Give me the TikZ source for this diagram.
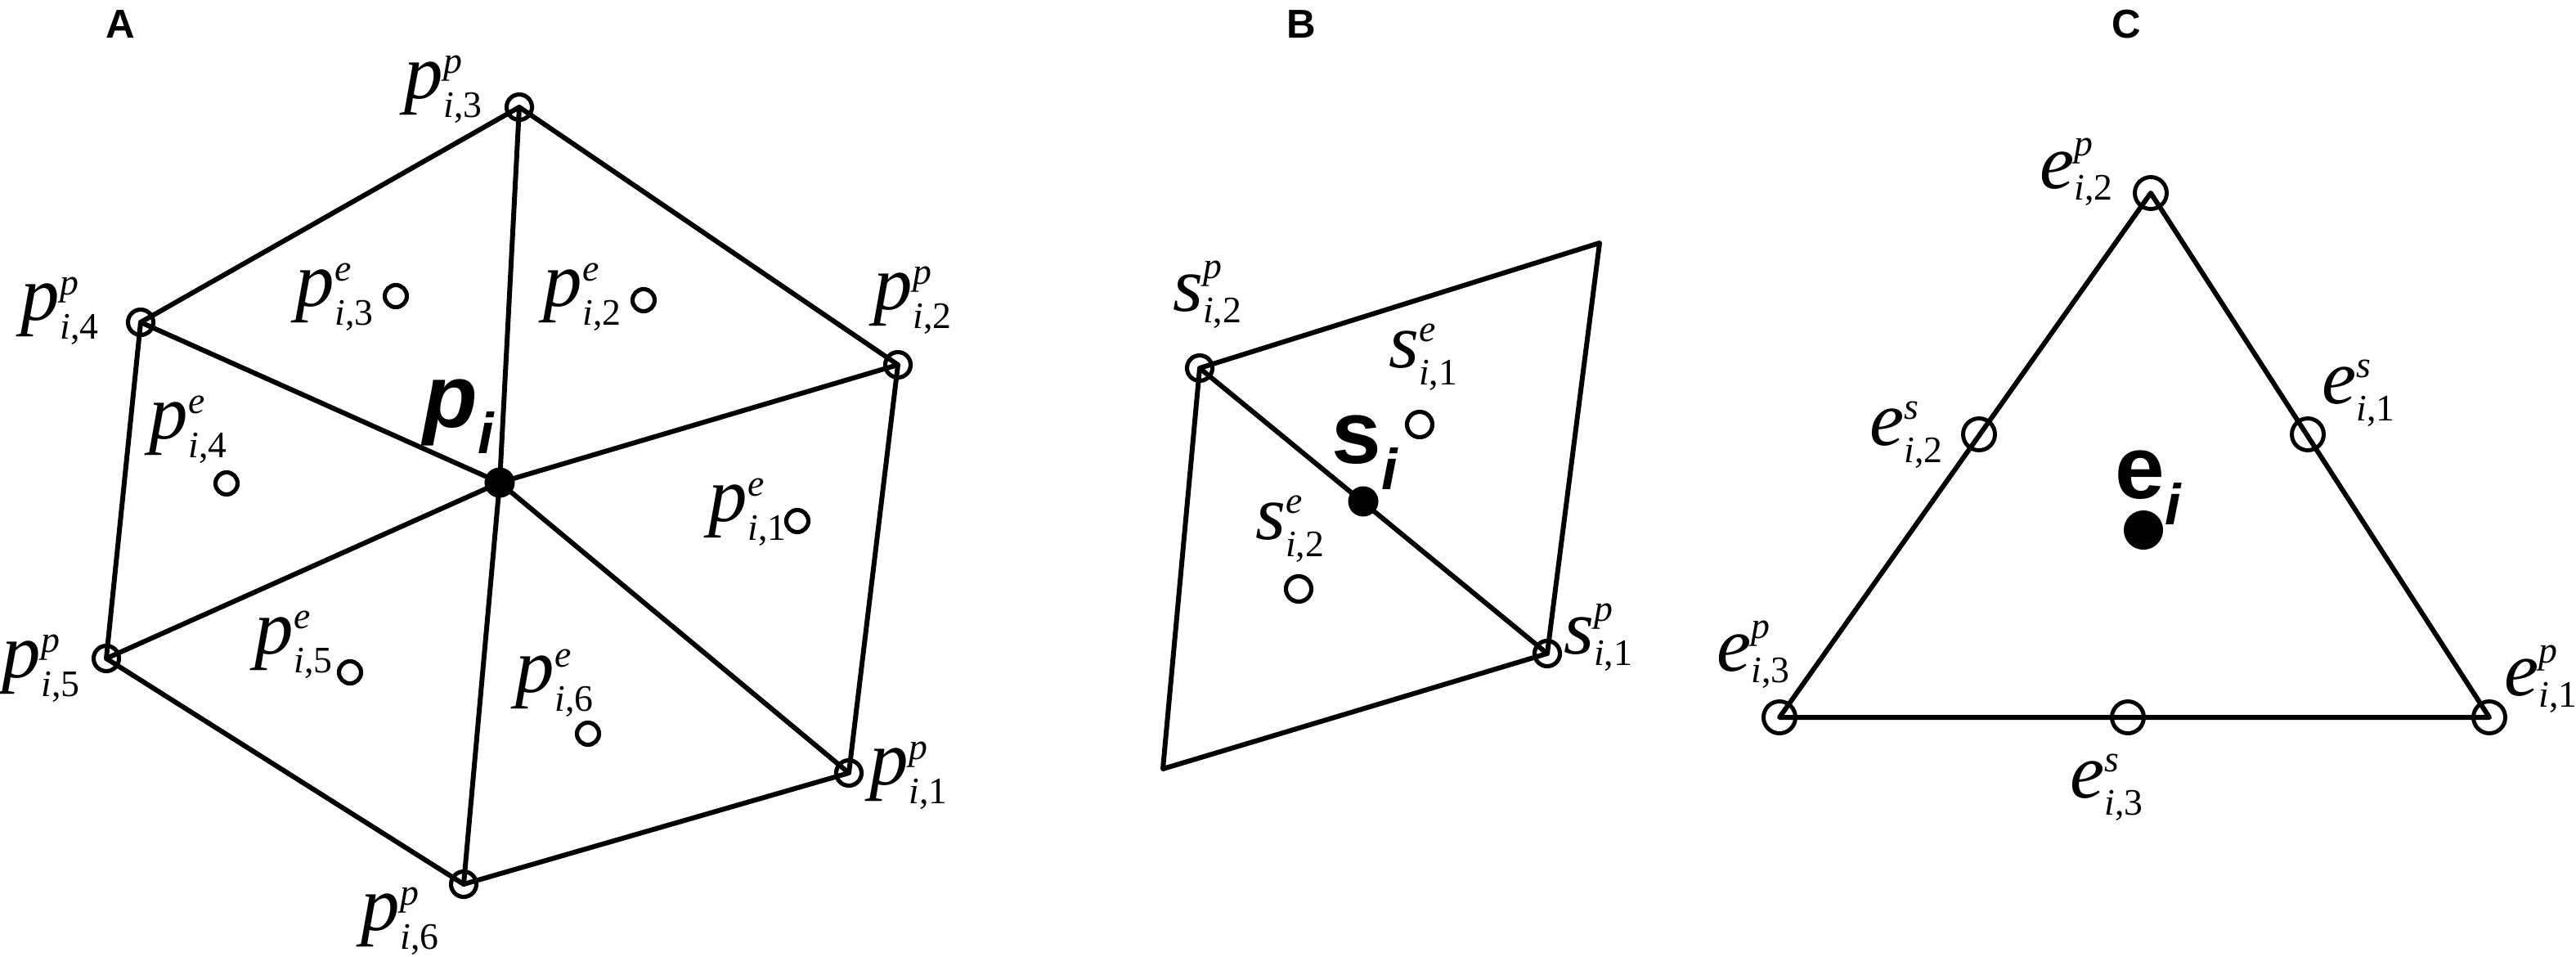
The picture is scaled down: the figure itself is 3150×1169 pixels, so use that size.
\documentclass[tikz,border=0pt]{standalone}
\usepackage{amsmath}
\usepackage{fontspec}
\setmainfont{Liberation Serif}
\newfontfamily\arialf{Liberation Sans}
\DeclareMathSizes{27}{27}{13}{9}
\newcommand\lab[3]{${\textit{#1}}^{\textit{#2}}_{\text{\textit{i},#3}}$}
\newcommand\blab[1]{{\arialf\bfseries\fontsize{31}{31}\selectfont #1\raisebox{-9pt}{\fontsize{20}{20}\selectfont\bfseries\itshape i}}}
\tikzset{
  edge/.style={line width=1.7pt, line cap=round, line join=round},
  vtx/.style={circle, draw, line width=1.45pt, inner sep=0pt, minimum size=0.31cm},
  epnt/.style={circle, draw, line width=1.45pt, inner sep=0pt, minimum size=0.27cm},
  cvtx/.style={circle, draw, line width=1.4pt, inner sep=0pt, minimum size=0.39cm},
  dot/.style={circle, fill=black, inner sep=0pt, minimum size=0.37cm},
  bigdot/.style={circle, fill=black, inner sep=0pt, minimum size=0.48cm},
  lbl/.style={inner sep=0pt, font=\fontsize{27}{32}\selectfont},
  blbl/.style={inner sep=0pt},
  panel/.style={inner sep=0pt, font=\arialf\bfseries\fontsize{14}{14}\selectfont},
}
\begin{document}
\begin{tikzpicture}[x=0.01cm, y=-0.01cm]
\useasboundingbox (0,0) rectangle (3150,1169);
\fill[white] (0,0) rectangle (3150,1169);

% ---------- Panel A ----------
\node[panel] (A) at (147,30) {A};
\coordinate (pc) at (611,590);
\coordinate (P1) at (1038,945);
\coordinate (P2) at (1098,446);
\coordinate (P3) at (635,131);
\coordinate (P4) at (172,394);
\coordinate (P5) at (130,805);
\coordinate (P6) at (567,1081);
\draw[edge] (P1) -- (P2) -- (P3) -- (P4) -- (P5) -- (P6) -- cycle;
\foreach \k in {1,...,6} \draw[edge] (pc) -- (P\k);
\foreach \k in {1,...,6} \node[vtx] (P\k c) at (P\k) {};
\node[dot] (pcd) at (pc) {};
\node[epnt] (E1) at (975,637) {};
\node[epnt] (E2) at (787,367) {};
\node[epnt] (E3) at (484,362) {};
\node[epnt] (E4) at (277,591) {};
\node[epnt] (E5) at (428,822) {};
\node[epnt] (E6) at (719,897) {};

\node[lbl] (LP1) at (1112,948) {\lab{p}{p}{1}};
\node[lbl] (LP2) at (1117,367) {\lab{p}{p}{2}};
\node[lbl] (LP3) at (543,109) {\lab{p}{p}{3}};
\node[lbl] (LP4) at (74,380) {\lab{p}{p}{4}};
\node[lbl] (LP5) at (51,817) {\lab{p}{p}{5}};
\node[lbl] (LP6) at (490,1126) {\lab{p}{p}{6}};
\node[lbl] (LE1) at (915,626) {\lab{p}{e}{1}};
\node[lbl] (LE2) at (713,363) {\lab{p}{e}{2}};
\node[lbl] (LE3) at (410,363) {\lab{p}{e}{3}};
\node[lbl] (LE4) at (231,525) {\lab{p}{e}{4}};
\node[lbl] (LE5) at (360,788) {\lab{p}{e}{5}};
\node[lbl] (LE6) at (679,835) {\lab{p}{e}{6}};
\node[blbl] (Lpi) at (561,509) {\blab{{\itshape p}}};

% ---------- Panel B ----------
\node[panel] (B) at (1591,30) {B};
\coordinate (S1) at (1892,799);
\coordinate (S2) at (1467,450);
\coordinate (BL) at (1422,940);
\coordinate (TR) at (1956,297);
\coordinate (sc) at (1667,613);
\draw[edge] (S2) -- (TR) -- (S1) -- (BL) -- cycle;
\draw[edge] (S2) -- (S1);
\node[vtx] (S1c) at (S1) {};
\node[vtx] (S2c) at (S2) {};
\node[vtx] (SE1) at (1736,519) {};
\node[vtx] (SE2) at (1588,720) {};
\node[dot] (scd) at (sc) {};
\node[lbl] (LS2) at (1477,360) {\lab{s}{p}{2}};
\node[lbl] (LS1) at (1955,779) {\lab{s}{p}{1}};
\node[lbl] (LSE1) at (1741,437) {\lab{s}{e}{1}};
\node[lbl] (LSE2) at (1578,647) {\lab{s}{e}{2}};
\node[blbl] (Lsi) at (1669,553) {\blab{s}};

% ---------- Panel C ----------
\node[panel] (C) at (2600,30) {C};
\coordinate (C1) at (3044,877);
\coordinate (C2) at (2630,236);
\coordinate (C3) at (2176,877);
\draw[edge] (C1) -- (C2) -- (C3) -- cycle;
\node[cvtx] (C1c) at (C1) {};
\node[cvtx] (C2c) at (C2) {};
\node[cvtx] (C3c) at (C3) {};
\node[cvtx] (CS1) at (2822,531) {};
\node[cvtx] (CS2) at (2420,531) {};
\node[cvtx] (CS3) at (2602,877) {};
\node[bigdot] (ecd) at (2621,648) {};
\node[lbl] (LC1) at (3108,830) {\lab{e}{p}{1}};
\node[lbl] (LC2) at (2540,210) {\lab{e}{p}{2}};
\node[lbl] (LC3) at (2145,800) {\lab{e}{p}{3}};
\node[lbl] (LCS1) at (2885,481) {\lab{e}{s}{1}};
\node[lbl] (LCS2) at (2332,532) {\lab{e}{s}{2}};
\node[lbl] (LCS3) at (2577,963) {\lab{e}{s}{3}};
\node[blbl] (Lei) at (2627,596) {\blab{e}};
\end{tikzpicture}
\end{document}
